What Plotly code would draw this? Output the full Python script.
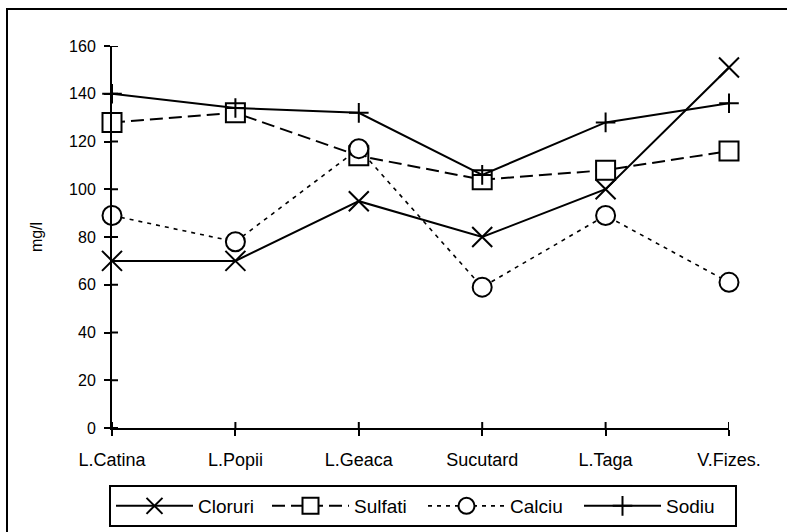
import plotly.graph_objects as go

categories = ["L.Catina", "L.Popii", "L.Geaca", "Sucutard", "L.Taga", "V.Fizes."]
cloruri = [70, 70, 95, 80, 100, 151]
sulfati = [128, 132, 114, 104, 108, 116]
calciu = [89, 78, 117, 59, 89, 61]
sodiu = [140, 134, 132, 106, 128, 136]
y_ticks = [0, 20, 40, 60, 80, 100, 120, 140, 160]

FONT = "Liberation Sans, Arial, sans-serif"
W, H = 787, 532
L, R, T, B = 112, 58, 46, 104
PW, PH = W - L - R, H - T - B
TICK = 6


def px_x(p):
    return (p - L) / PW


def px_y(p):
    return (H - B - p) / PH


xi = list(range(len(categories)))

fig = go.Figure()
fig.add_trace(go.Scatter(
    x=xi, y=cloruri, name="Cloruri", mode="lines+markers",
    line=dict(color="black", width=2),
    marker=dict(symbol="x-thin-open", size=20, color="black",
                line=dict(color="black", width=2)),
    cliponaxis=False))
fig.add_trace(go.Scatter(
    x=xi, y=sulfati, name="Sulfati", mode="lines+markers",
    line=dict(color="black", width=2, dash="13px,6px"),
    marker=dict(symbol="square", size=19, color="white",
                line=dict(color="black", width=2)),
    cliponaxis=False))
fig.add_trace(go.Scatter(
    x=xi, y=calciu, name="Calciu", mode="lines+markers",
    line=dict(color="black", width=1.6, dash="4px,5px"),
    marker=dict(symbol="circle", size=19, color="white",
                line=dict(color="black", width=2)),
    cliponaxis=False))
fig.add_trace(go.Scatter(
    x=xi, y=sodiu, name="Sodiu", mode="lines+markers",
    line=dict(color="black", width=2),
    marker=dict(symbol="cross-thin-open", size=14, color="black",
                line=dict(color="black", width=2)),
    cliponaxis=False))

# inner halves of the crossing tick marks (outer halves are the axis ticks)
shapes = []
for v in y_ticks:
    shapes.append(dict(type="line", xref="paper", yref="y",
                       x0=0, x1=TICK / PW, y0=v, y1=v,
                       line=dict(color="black", width=2), layer="above"))
for v in xi:
    shapes.append(dict(type="line", xref="x", yref="paper",
                       x0=v, x1=v, y0=0, y1=TICK / PH,
                       line=dict(color="black", width=2), layer="above"))
shapes.append(dict(
    type="rect", xref="paper", yref="paper",
    x0=px_x(7), x1=px_x(800), y0=px_y(545), y1=px_y(9),
    line=dict(color="black", width=2), fillcolor="rgba(0,0,0,0)", layer="below"))

fig.update_layout(
    width=W, height=H,
    margin=dict(l=L, r=R, t=T, b=B, pad=0, autoexpand=False),
    paper_bgcolor="white", plot_bgcolor="white",
    font=dict(family=FONT, color="black", size=19),
    showlegend=True,
    legend=dict(
        orientation="h", x=px_x(109), y=px_y(485), xanchor="left", yanchor="top",
        bordercolor="black", borderwidth=2, bgcolor="white",
        font=dict(family=FONT, size=19, color="black"),
        itemwidth=77, entrywidth=64, entrywidthmode="pixels",
        tracegroupgap=0, itemclick=False,
    ),
    xaxis=dict(
        range=[0, 5], tickmode="array", tickvals=xi, ticktext=categories,
        showgrid=False, zeroline=False, showline=True, linecolor="black", linewidth=2,
        ticks="outside", ticklen=TICK, tickwidth=2, tickcolor="black",
        tickfont=dict(family=FONT, size=18, color="black"),
        ticklabelstandoff=8,
        fixedrange=True,
    ),
    yaxis=dict(
        range=[0, 160], tickmode="array", tickvals=y_ticks,
        showgrid=False, zeroline=False, showline=True, linecolor="black", linewidth=2,
        ticks="outside", ticklen=TICK, tickwidth=2, tickcolor="black",
        tickfont=dict(family=FONT, size=16, color="black"),
        ticklabelstandoff=5,
        title=dict(text="mg/l", font=dict(family=FONT, size=16, color="black"), standoff=22),
        fixedrange=True,
    ),
    shapes=shapes,
)

fig.write_html("out.html")
